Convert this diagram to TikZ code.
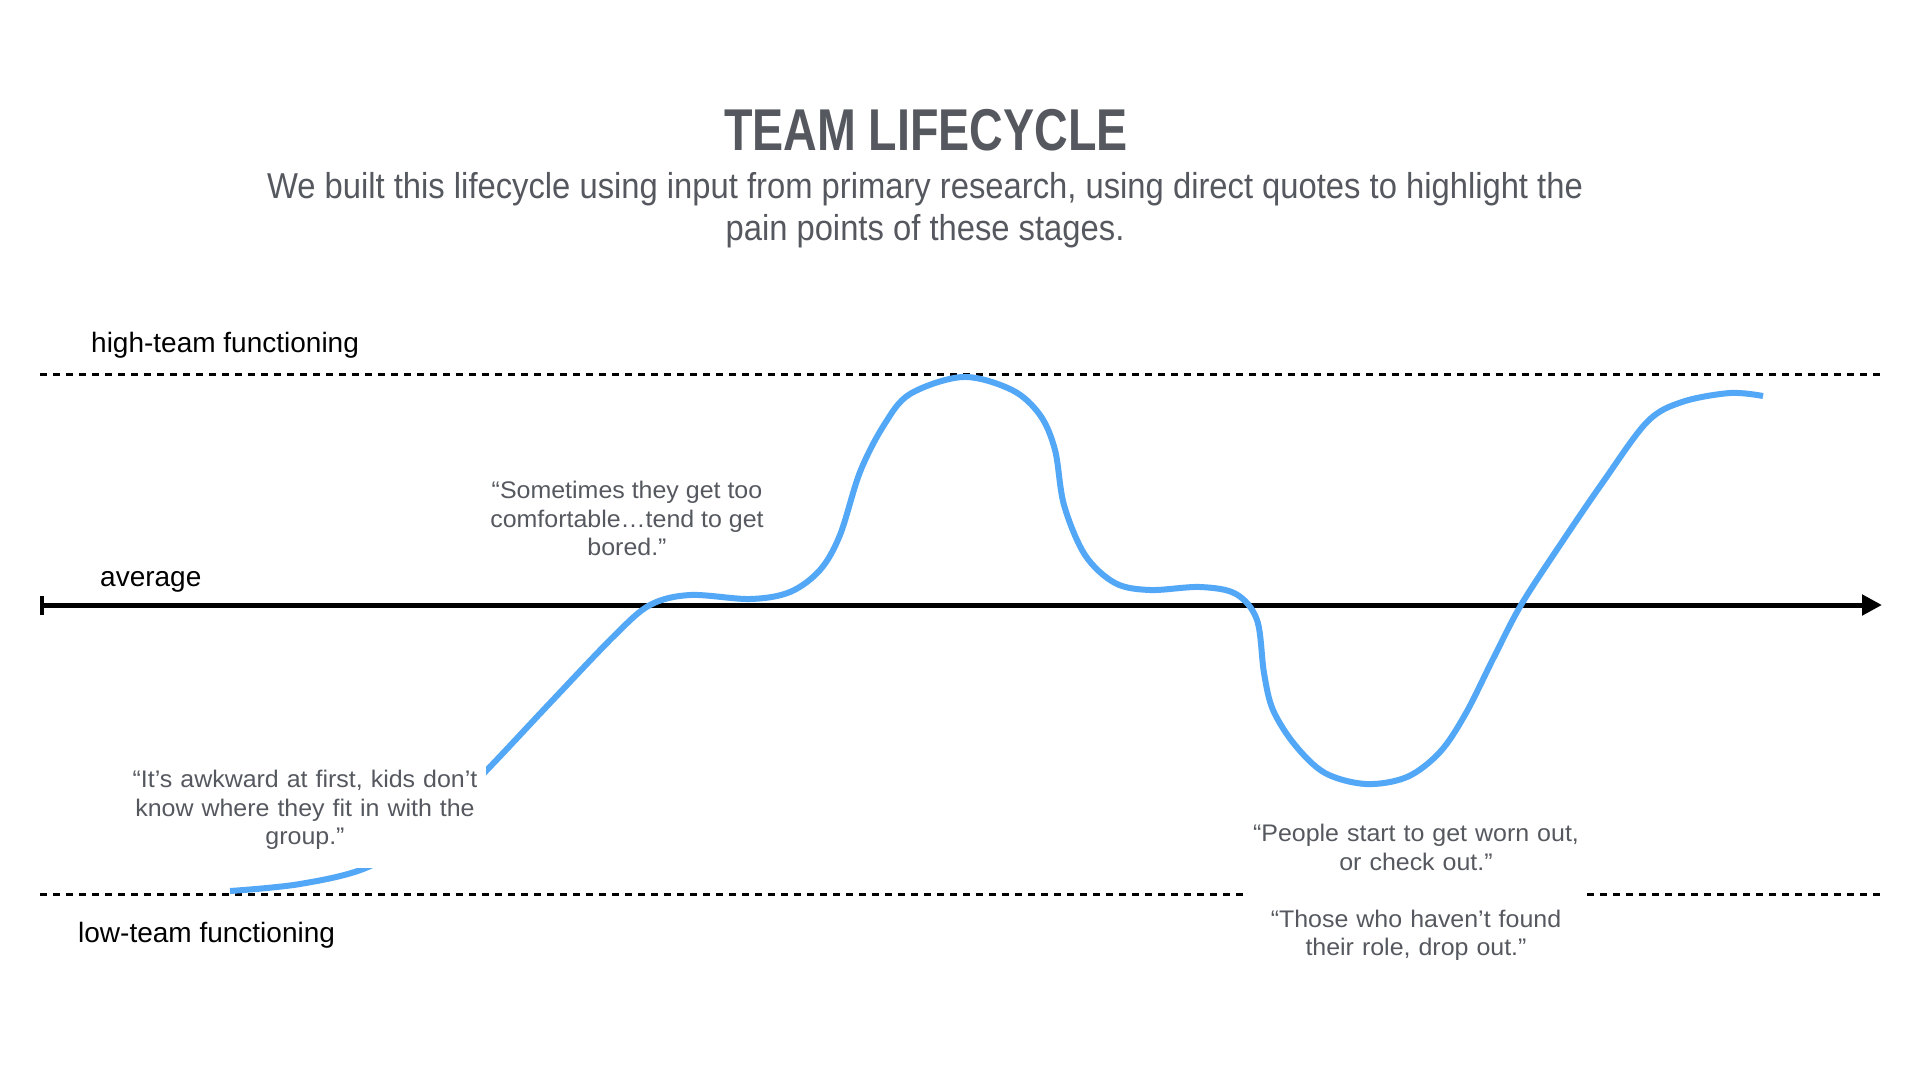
\documentclass[tikz,border=0pt]{standalone}
\usepackage{fontspec}
\setmainfont{Liberation Sans}
\newfontfamily\titlefont[FakeStretch=0.79]{Liberation Sans}
\newfontfamily\condfont[FakeStretch=0.91]{Liberation Sans}
\newfontfamily\quotefont[FakeStretch=1.04]{Liberation Sans}
\usetikzlibrary{arrows.meta}
\definecolor{curveblue}{RGB}{82,167,246}
\definecolor{textgrey}{RGB}{85,89,95}

\begin{document}
\begin{tikzpicture}[x=1pt, y=-1pt, every node/.style={align=center},
  level/.style={line width=3pt, dash pattern=on 7pt off 6pt},
  levellabel/.style={anchor=base west, inner sep=0pt, font=\fontsize{28}{34}\selectfont},
  quote/.style={text=textgrey, fill=white, anchor=north, inner xsep=5pt, inner ysep=6pt,
    font=\quotefont\fontsize{24}{28.5}\selectfont}]
  \fill[white] (0,0) rectangle (1920,1080);
  \useasboundingbox (0,0) rectangle (1920,1080);

  % levels and axis
  \coordinate (hiL) at (40,374);  \coordinate (hiR) at (1882,374);
  \coordinate (loL) at (40,894);  \coordinate (loR) at (1882,894);
  \coordinate (axL) at (40,605);  \coordinate (axR) at (1882,605);

  \node (title) [anchor=base, text=textgrey, font=\titlefont\bfseries\fontsize{59}{70}\selectfont] at (926,150) {TEAM LIFECYCLE};
  \node (subtitle) [inner sep=0pt, text=textgrey, font=\condfont\fontsize{36}{42}\selectfont] at (925,210)
    {We built this lifecycle using input from primary research, using direct quotes to highlight the\\pain points of these stages.};

  \node (hiLabel) [levellabel] at (91,352) {high-team functioning};
  \node (avgLabel) [levellabel] at (100,586) {average};
  \node (loLabel) [levellabel] at (78,942) {low-team functioning};

  \draw[level] (hiL) -- (hiR);
  \draw[level] (loL) -- (loR);
  \draw[line width=5pt, {Bar[width=19pt,line width=4pt]}-{Triangle[length=20pt,width=20pt]}] (axL) -- (axR);

  % the lifecycle curve
  \draw[curveblue, line width=6pt] plot[smooth, tension=0.55] coordinates {
    (230,891) (300,884) (368,867) (430,827) (486,771) (550,703) (614,636) (650,605) (690,595)
    (750,599) (790,592) (820,570) (840,535) (860,472) (884,425) (910,394) (963,377)
    (1012,390) (1040,415) (1055,450) (1064,505) (1085,555) (1115,583) (1150,590)
    (1200,587) (1236,594) (1257,620) (1264,673) (1273,710) (1295,745) (1325,773)
    (1366,784) (1407,777) (1440,752) (1466,713) (1494,657) (1521,605) (1560,545)
    (1603,482) (1647,422) (1682,402) (1730,393) (1763,396)};

  \node (quoteBored) [quote] at (627,475)
    {“Sometimes they get too\\comfortable…tend to get\\bored.”};
  \node (quoteAwkward) [quote, text width=352pt] at (305,764)
    {“It’s awkward at first, kids don’t\\know where they fit in with the\\group.”\rule[-17pt]{0pt}{1pt}};
  \node (quoteWorn) [quote, text width=332pt] at (1416,818)
    {“People start to get worn out,\\or check out.”\\[28.5pt]“Those who haven’t found\\their role, drop out.”};
\end{tikzpicture}
\end{document}
